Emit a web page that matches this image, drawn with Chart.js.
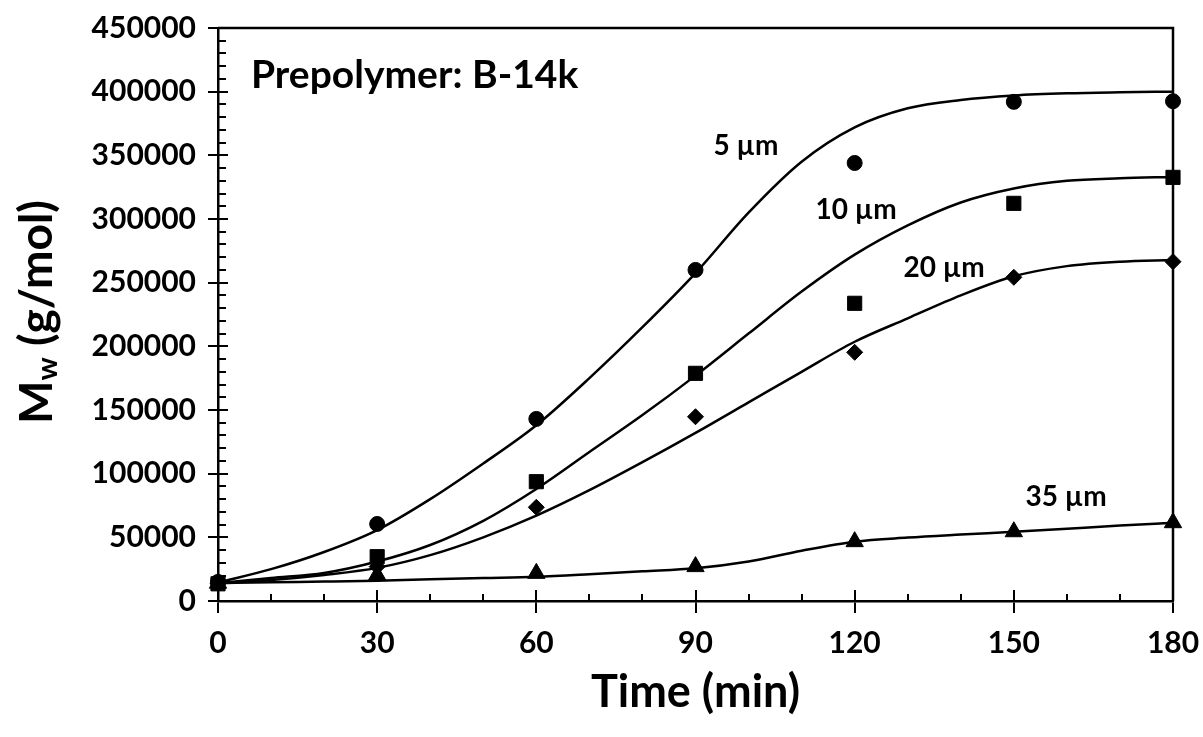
<!DOCTYPE html>
<html>
<head>
<meta charset="utf-8">
<script src="https://cdn.jsdelivr.net/npm/chart.js@4.4.1/dist/chart.umd.min.js"></script>
<style>
  html, body { margin: 0; padding: 0; background: #fff; }
  #wrap { width: 1203px; height: 737px; }
</style>
</head>
<body>
<div id="wrap"><canvas id="c" width="1203" height="737"></canvas></div>
<script>
// ---- Data ----
const times = [0, 30, 60, 90, 120, 150, 180];
const mw5  = [15000, 60500, 143000, 260000, 344000, 392000, 392500];
const mw10 = [13500, 34800, 93700, 178800, 233800, 312300, 332700];
const mw20 = [14000, 27000, 73600, 144700, 195300, 254200, 266500];
const mw35 = [14000, 20400, 21700, 27000, 46600, 54400, 61500];

// fitted curves, read every 10 min
const fitTimes = [0, 10, 20, 30, 40, 50, 60, 70, 80, 90, 100, 110, 120, 130, 140, 150, 160, 170, 180];
const fit5  = [14500, 25000, 38500, 55700, 80000, 108000, 138000, 175000, 215000, 257500, 305000, 345000, 372000, 387000, 393500, 397000, 398700, 399500, 400000];
const fit10 = [14000, 18000, 22000, 31000, 44000, 63000, 88000, 117000, 146000, 177000, 210000, 243000, 272000, 295000, 313000, 324000, 330000, 332000, 333000];
const fit20 = [14000, 16500, 20500, 26000, 36000, 50000, 67000, 87000, 109000, 132000, 156000, 180000, 203600, 222000, 240000, 255000, 263000, 266500, 267800];
const fit35 = [14000, 14700, 15300, 16000, 17000, 18000, 19000, 21000, 23300, 25700, 31000, 39500, 46600, 49800, 52200, 54400, 56800, 59200, 61500];

const xTicks = [0, 30, 60, 90, 120, 150, 180];
const yTicks = [0, 50000, 100000, 150000, 200000, 250000, 300000, 350000, 400000, 450000];

const seriesLabels = ['5 µm', '10 µm', '20 µm', '35 µm'];
const annotationText = 'Prepolymer: B-14k';
const xTitle = 'Time (min)';

// ---- Build datasets ----
const FONT = 'Lato, "Open Sans", sans-serif';
const pts = (xs, ys) => xs.map((x, i) => ({ x: x, y: ys[i] }));

function curve(label, ys) {
  return {
    label: label + ' fit', data: pts(fitTimes, ys), showLine: true,
    borderColor: '#000', borderWidth: 2.5, pointRadius: 0, pointHoverRadius: 0,
    cubicInterpolationMode: 'monotone', fill: false, order: 2
  };
}
function markers(label, ys, style, r) {
  return {
    label: label, data: pts(times, ys), showLine: false,
    pointStyle: style, pointRadius: r, pointHoverRadius: r,
    backgroundColor: '#000', borderColor: '#000', borderWidth: 1, clip: false, order: 1
  };
}

const datasets = [
  curve(seriesLabels[0], fit5), curve(seriesLabels[1], fit10),
  curve(seriesLabels[2], fit20), curve(seriesLabels[3], fit35),
  markers(seriesLabels[0], mw5, 'circle', 7.5),
  markers(seriesLabels[1], mw10, 'rect', 10),
  markers(seriesLabels[2], mw20, 'rectRot', 8),
  markers(seriesLabels[3], mw35, 'triangle', 10)
];

// ---- Custom decorations: inner ticks, box, titles, labels ----
const deco = {
  id: 'deco',
  afterDraw(chart) {
    const ctx = chart.ctx, a = chart.chartArea;
    const xs = chart.scales.x, ys = chart.scales.y;
    ctx.save();
    ctx.strokeStyle = '#000';
    ctx.lineWidth = 2;
    for (let v = 0; v <= 180; v += 10) {
      const px = Math.round(xs.getPixelForValue(v));
      const len = (v % 30 === 0) ? 11 : 7;
      ctx.beginPath(); ctx.moveTo(px, a.bottom); ctx.lineTo(px, a.bottom - len); ctx.stroke();
    }
    for (let v = 0; v <= 450000; v += 10000) {
      const py = Math.round(ys.getPixelForValue(v));
      const len = (v % 50000 === 0) ? 10 : 8;
      ctx.beginPath(); ctx.moveTo(a.left, py); ctx.lineTo(a.left + len, py); ctx.stroke();
    }
    ctx.lineWidth = 2.5;
    ctx.beginPath();
    ctx.moveTo(a.left, a.top); ctx.lineTo(a.right, a.top); ctx.lineTo(a.right, a.bottom);
    ctx.stroke();

    ctx.fillStyle = '#000';
    ctx.font = 'bold 45px ' + FONT;
    ctx.textAlign = 'center'; ctx.textBaseline = 'middle';
    ctx.fillText(xTitle, (a.left + a.right) / 2, 692);

    ctx.save();
    ctx.translate(37, 312);
    ctx.rotate(-Math.PI / 2);
    const big = 'bold 46px ' + FONT, small = 'bold 29px ' + FONT;
    ctx.font = big; const wM = ctx.measureText('M').width;
    const wRest = ctx.measureText(' (g/mol)').width;
    ctx.font = small; const wW = ctx.measureText('w').width;
    let x0 = -(wM + wW + wRest) / 2;
    ctx.textAlign = 'left'; ctx.textBaseline = 'middle';
    ctx.font = big; ctx.fillText('M', x0, 0);
    ctx.font = small; ctx.fillText('w', x0 + wM, 11);
    ctx.font = big; ctx.fillText(' (g/mol)', x0 + wM + wW, 0);
    ctx.restore();

    ctx.font = 'bold 39px ' + FONT;
    ctx.textAlign = 'left'; ctx.textBaseline = 'alphabetic';
    ctx.fillText(annotationText, 251, 88);

    ctx.font = 'bold 28px ' + FONT;
    ctx.textAlign = 'center'; ctx.textBaseline = 'middle';
    ctx.fillText(seriesLabels[0], 746, 146);
    ctx.fillText(seriesLabels[1], 856, 210);
    ctx.fillText(seriesLabels[2], 944, 268);
    ctx.fillText(seriesLabels[3], 1066, 497);
    ctx.restore();
  }
};

new Chart(document.getElementById('c'), {
  type: 'scatter',
  data: { datasets: datasets },
  options: {
    responsive: false,
    animation: false,
    events: [],
    layout: { padding: { left: 0, right: 30, top: 28, bottom: 0 } },
    plugins: { legend: { display: false }, tooltip: { enabled: false } },
    scales: {
      x: {
        type: 'linear', min: 0, max: 180,
        afterFit(s) { s.height = 136; s.paddingLeft = 0; s.paddingRight = 0; },
        afterBuildTicks(s) { s.ticks = xTicks.map(v => ({ value: v })); },
        ticks: { color: '#000', font: { family: FONT, size: 30, weight: 'bold' }, padding: 12, maxRotation: 0 },
        grid: { drawOnChartArea: false, drawTicks: true, tickLength: 12, color: '#000', lineWidth: 2 },
        border: { display: true, color: '#000', width: 2.5 }
      },
      y: {
        type: 'linear', min: 0, max: 450000,
        afterFit(s) { s.width = 218; s.paddingTop = 0; s.paddingBottom = 0; },
        afterBuildTicks(s) { s.ticks = yTicks.map(v => ({ value: v })); },
        ticks: { color: '#000', font: { family: FONT, size: 30, weight: 'bold' }, padding: 12,
                 callback: v => String(v) },
        grid: { drawOnChartArea: false, drawTicks: true, tickLength: 10, color: '#000', lineWidth: 2 },
        border: { display: true, color: '#000', width: 2.5 }
      }
    }
  },
  plugins: [deco]
});
</script>
</body>
</html>
